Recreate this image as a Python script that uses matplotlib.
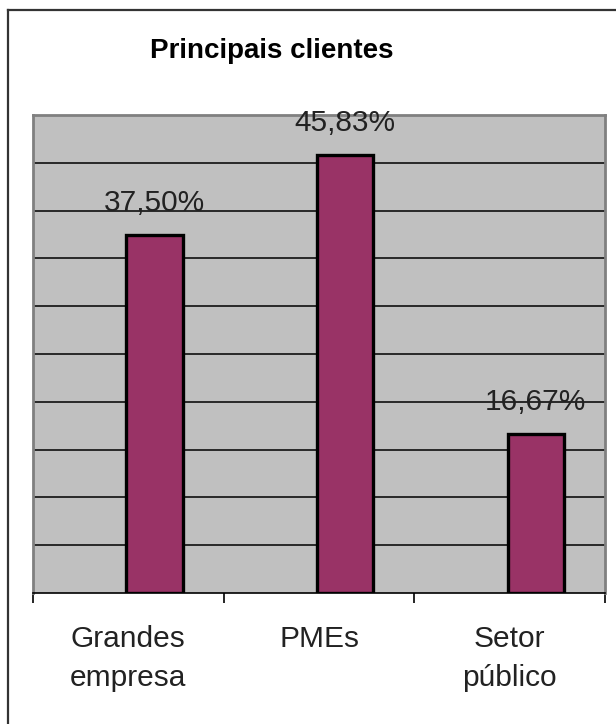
import numpy as np
import matplotlib
matplotlib.use("Agg")
import matplotlib.pyplot as plt
from matplotlib.lines import Line2D

plt.rcParams['font.family'] = ['Liberation Sans', 'DejaVu Sans']

categories = ["Grandes\nempresa", "PMEs", "Setor\npúblico"]
values = [0.3750, 0.4583, 0.1667]
labels = ["37,50%", "45,83%", "16,67%"]

W, H = 616, 724
fig = plt.figure(figsize=(W / 100, H / 100), dpi=100)
ax = fig.add_axes([33 / W, 1 - 593 / H, (605 - 33) / W, (593 - 115) / H])

ax.set_facecolor('#C0C0C0')
x = np.arange(len(categories))
offset = 0.137
ax.bar(x + offset, values, width=0.295, color='#993366', edgecolor='black',
       linewidth=2.4, zorder=3)

for xi, v, lab in zip(x, values, labels):
    ax.annotate(lab, (xi + offset, v), xytext=(0, 17), textcoords='offset points',
                ha='center', va='baseline', fontsize=21.5, color='#222222', zorder=4)

ax.set_xlim(-0.5, 2.5)
ax.set_ylim(0, 0.5)
for g in np.arange(0.05, 0.5, 0.05):
    ax.axhline(g, color='black', linewidth=1.1, zorder=1)

ax.set_yticks([])
ax.set_xticks([-0.5, 0.5, 1.5, 2.5])
ax.set_xticklabels([])
ax.tick_params(axis='x', direction='out', length=7, width=1.2, color='black')
ax.set_xticks(x, minor=True)
ax.set_xticklabels(categories, minor=True, fontsize=21.5, color='#222222',
                   linespacing=1.5)
ax.tick_params(axis='x', which='minor', length=0, pad=23)

for side in ['left', 'top', 'right']:
    ax.spines[side].set_color('#808080')
    ax.spines[side].set_linewidth(2)
ax.spines['bottom'].set_color('black')
ax.spines['bottom'].set_linewidth(1.2)

fig.text(272 / W, 1 - 58 / H, "Principais clientes", ha='center', va='baseline',
         fontsize=20, fontweight='bold', color='black')

# chart border (only left and top visible)
fig.add_artist(Line2D([8 / W, 1.0], [1 - 10 / H, 1 - 10 / H], color='#333333', linewidth=1.6))
fig.add_artist(Line2D([8 / W, 8 / W], [0.0, 1 - 10 / H], color='#333333', linewidth=1.6))

fig.savefig('out.png', dpi=100)
